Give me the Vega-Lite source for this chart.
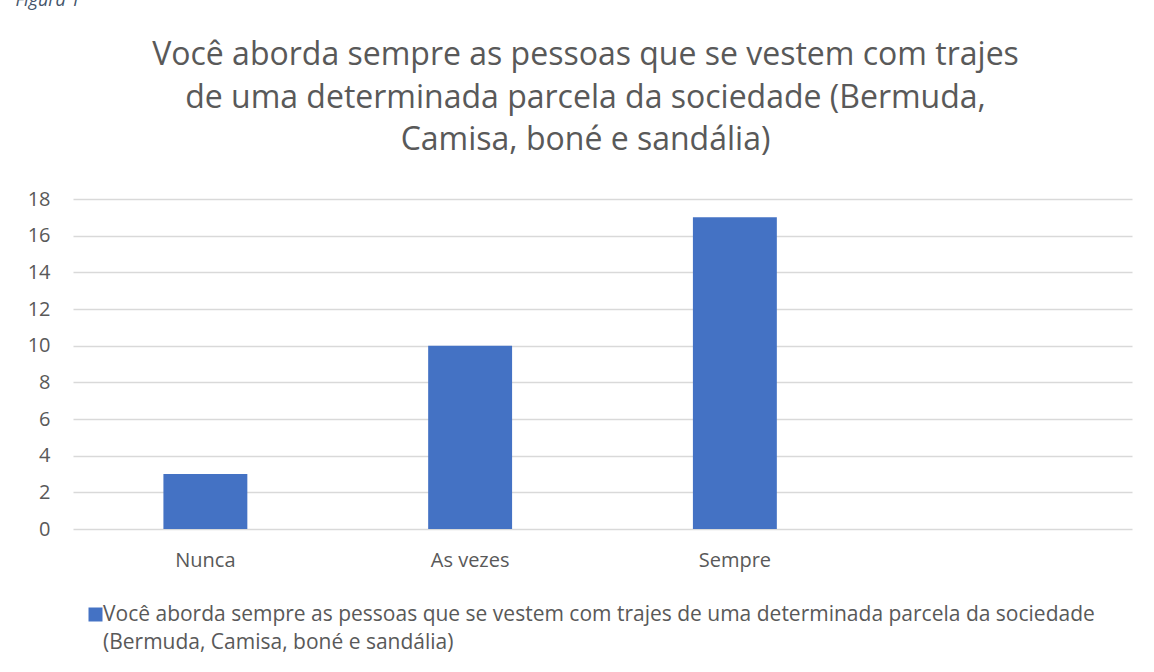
{
  "$schema": "https://vega.github.io/schema/vega-lite/v6.json",
  "autosize": "none",
  "width": 1059,
  "height": 330,
  "padding": {"left": 73, "top": 199, "right": 22, "bottom": 143},
  "background": "white",
  "title": {
    "text": ["Você aborda sempre as pessoas que se vestem com trajes", "de uma determinada parcela da sociedade (Bermuda,", "Camisa, boné e sandália)"],
    "font": "Open Sans",
    "fontSize": 32,
    "fontWeight": "normal",
    "color": "#595959",
    "lineHeight": 42.5,
    "anchor": "middle",
    "baseline": "bottom",
    "dx": -17,
    "dy": 234,
    "offset": 36
  },
  "data": {
    "values": [
      {"categoria": "Nunca", "valor": 3, "serie": "Você aborda sempre as pessoas que se vestem com trajes de uma determinada parcela da sociedade (Bermuda, Camisa, boné e sandália)"},
      {"categoria": "As vezes", "valor": 10, "serie": "Você aborda sempre as pessoas que se vestem com trajes de uma determinada parcela da sociedade (Bermuda, Camisa, boné e sandália)"},
      {"categoria": "Sempre", "valor": 17, "serie": "Você aborda sempre as pessoas que se vestem com trajes de uma determinada parcela da sociedade (Bermuda, Camisa, boné e sandália)"}
    ]
  },
  "mark": {"type": "bar"},
  "encoding": {
    "x": {
      "field": "categoria",
      "type": "nominal",
      "sort": null,
      "scale": {"domain": ["Nunca", "As vezes", "Sempre", " "], "paddingInner": 0.683, "paddingOuter": 0.3415},
      "axis": {
        "title": null,
        "labelAngle": 0,
        "labelFont": "Open Sans",
        "labelFontSize": 20,
        "labelColor": "#595959",
        "labelPadding": 21,
        "ticks": false,
        "domain": false,
        "grid": false
      }
    },
    "y": {
      "field": "valor",
      "type": "quantitative",
      "scale": {"domain": [0, 18], "nice": false},
      "axis": {
        "title": "Figura 1",
        "titleFont": "Open Sans",
        "titleFontStyle": "italic",
        "titleFontWeight": "normal",
        "titleFontSize": 18,
        "titleColor": "#44546A",
        "titleAngle": 0,
        "titleAlign": "left",
        "titleBaseline": "alphabetic",
        "titleX": -58,
        "titleY": -194,
        "values": [0, 2, 4, 6, 8, 10, 12, 14, 16, 18],
        "labelFont": "Open Sans",
        "labelFontSize": 20,
        "labelColor": "#595959",
        "labelPadding": 23,
        "ticks": false,
        "domain": false,
        "grid": true,
        "gridColor": "#d9d9d9",
        "gridWidth": 1.3
      }
    },
    "color": {
      "field": "serie",
      "type": "nominal",
      "scale": {"range": ["#4472C4"]},
      "legend": {
        "title": null,
        "orient": "none",
        "legendX": 12,
        "legendY": 405,
        "symbolType": "square",
        "symbolSize": 196,
        "symbolStrokeWidth": 0,
        "symbolOpacity": 1,
        "labelFont": "Open Sans",
        "labelFontSize": 21,
        "labelColor": "#595959",
        "labelLimit": 0,
        "labelOffset": 0,
        "labelBaseline": "middle",
        "labelExpr": "['Você aborda sempre as pessoas que se vestem com trajes de uma determinada parcela da sociedade', '(Bermuda, Camisa, boné e sandália)']",
        "encode": {"labels": {"update": {"dx": {"value": -3}, "lineHeight": {"value": 28}}}}
      }
    }
  },
  "config": {"view": {"stroke": null}}
}
